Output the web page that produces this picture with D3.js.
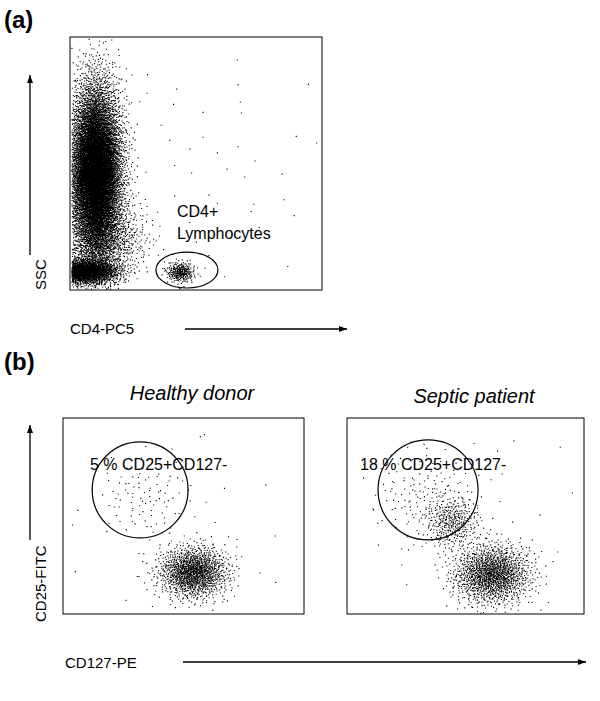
<!DOCTYPE html>
<html><head><meta charset="utf-8">
<script src="https://cdn.jsdelivr.net/npm/d3@7"></script>
<style>body{margin:0;background:#fff}text{font-family:"Liberation Sans",Arial,sans-serif;fill:#000}</style>
</head><body>
<svg id="fig" width="600" height="701"></svg>
<script>
'use strict';
// event clusters per plot, in channel units 0-1000: [cx, cy, sdx, sdy, count]
var clustersA = [[100,460,50,170,11000],[60,75,65,25,2000],[150,200,80,70,700],[436,72,28,20,280],[500,500,300,280,60]];
var clustersHealthy = [[540,215,70,65,1400],[330,600,100,100,90],[500,500,300,300,30]];
var clustersSeptic = [[610,205,80,75,1500],[440,470,55,65,350],[330,600,110,110,150],[500,500,300,300,40]];
// gates: [cx, cy, rx, ry] in channel units
var gateA = [464,79,123,71];
var gateHealthy = [320,633,199,245];
var gateSeptic = [342,633,211,255];
var gateLabels = ["CD4+\nLymphocytes", "5 % CD25+CD127-", "18 % CD25+CD127-"];
var titles = ["Healthy donor", "Septic patient"];

var svg = d3.select('#fig');

// deterministic halton sequence
function halton(i, b){ var f=1, r=0; while(i>0){ f/=b; r+=f*(i%b); i=Math.floor(i/b);} return r; }
var seq = 1;
function events(cl){
	var pts=[];
	cl.forEach(function(c){
		for(var k=0;k<c[4];k++){
			var u=halton(seq,2)||0.5, v=halton(seq,3); seq++;
			var rr=Math.sqrt(-2*Math.log(u));
			pts.push([c[0]+c[2]*rr*Math.cos(2*Math.PI*v), c[1]+c[3]*rr*Math.sin(2*Math.PI*v)]);
		}
	});
	return pts;
}

function panel(x0,y0,w,h,cl,gate,label,lx,ly){
	var x=d3.scaleLinear().domain([0,1000]).range([x0,x0+w]);
	var y=d3.scaleLinear().domain([0,1000]).range([y0+h,y0]);
	var d='';
	events(cl).forEach(function(p){
		if(p[0]<5||p[0]>995||p[1]<5||p[1]>995) return;
		d+='M'+x(p[0]).toFixed(1)+' '+y(p[1]).toFixed(1)+'h1.1v1.1h-1.1z';
	});
	svg.append('path').attr('d',d).attr('fill','#000');
	svg.append('rect').attr('x',x0).attr('y',y0).attr('width',w).attr('height',h)
		.attr('fill','none').attr('stroke','#000').attr('stroke-width',1);
	svg.append('ellipse').attr('cx',x(gate[0])).attr('cy',y(gate[1]))
		.attr('rx',x(gate[2])-x(0)).attr('ry',y(0)-y(gate[3]))
		.attr('fill','none').attr('stroke','#000').attr('stroke-width',1.2);
	label.split('\n').forEach(function(t,i){
		svg.append('text').attr('x',lx).attr('y',ly+i*22).attr('font-size',16).text(t);
	});
}

function arrow(x1,y1,x2,y2){
	svg.append('line').attr('x1',x1).attr('y1',y1).attr('x2',x2).attr('y2',y2).attr('stroke','#000').attr('stroke-width',1.3);
	var a=Math.atan2(y2-y1,x2-x1), s=8;
	svg.append('path').attr('d','M'+x2+' '+y2+'L'+(x2-s*Math.cos(a)+3*Math.sin(a))+' '+(y2-s*Math.sin(a)-3*Math.cos(a))
		+'L'+(x2-s*Math.cos(a)-3*Math.sin(a))+' '+(y2-s*Math.sin(a)+3*Math.cos(a))+'Z').attr('fill','#000');
}

// (a)
svg.append('text').attr('x',4).attr('y',28).attr('font-size',24).attr('font-weight','bold').text('(a)');
panel(70,37,252,253,clustersA,gateA,gateLabels[0],177,217);
arrow(30,255,30,75);
svg.append('text').attr('transform','translate(46,290) rotate(-90)').attr('font-size',15).text('SSC');
svg.append('text').attr('x',70).attr('y',334).attr('font-size',15).text('CD4-PC5');
arrow(185,329,347,329);

// (b)
svg.append('text').attr('x',4).attr('y',370).attr('font-size',24).attr('font-weight','bold').text('(b)');
svg.append('text').attr('x',192).attr('y',400).attr('text-anchor','middle').attr('font-size',20).attr('font-style','italic').text(titles[0]);
svg.append('text').attr('x',474).attr('y',403).attr('text-anchor','middle').attr('font-size',20).attr('font-style','italic').text(titles[1]);
panel(63,418,241,196,clustersHealthy,gateHealthy,gateLabels[1],90,470);
panel(347,418,237,196,clustersSeptic,gateSeptic,gateLabels[2],360,470);
arrow(30,540,30,425);
svg.append('text').attr('transform','translate(46,622) rotate(-90)').attr('font-size',15).text('CD25-FITC');
svg.append('text').attr('x',65).attr('y',668).attr('font-size',15).text('CD127-PE');
arrow(183,662,586,662);
</script>
</body></html>
